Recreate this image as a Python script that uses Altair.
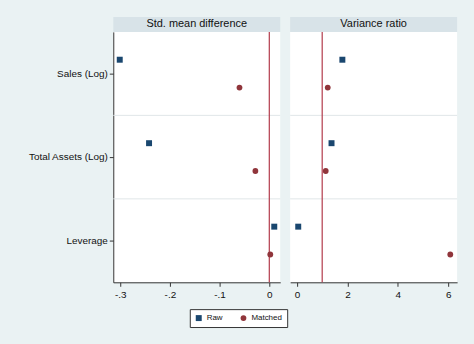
import altair as alt
import pandas as pd

variables = ["Sales (Log)", "Total Assets (Log)", "Leverage"]
samples = ["Raw", "Matched"]
smd_raw = [-0.301, -0.242, 0.010]
smd_matched = [-0.060, -0.028, 0.002]
vr_raw = [1.80, 1.37, 0.05]
vr_matched = [1.22, 1.14, 6.08]

smd_ticks = [-0.3, -0.2, -0.1, 0]
vr_ticks = [0, 2, 4, 6]
panel_titles = ["Std. mean difference", "Variance ratio"]
ref_values = [0, 1]

NAVY = "#1a476f"
MAROON = "#90353b"
REF = "#b23a4a"
BG = "#eaf2f3"
HDR = "#d8e3e8"
FONT = "Liberation Sans"
W, H = 168, 252


def make_df(raw, matched):
    rows = []
    for v, r, m in zip(variables, raw, matched):
        rows.append({"variable": v, "sample": "Raw", "value": r})
        rows.append({"variable": v, "sample": "Matched", "value": m})
    return pd.DataFrame(rows)


def panel(df, title, domain, ticks, ref, show_y, label_expr):
    xscale = alt.Scale(domain=domain, nice=False, zero=False)
    yscale = alt.Scale(domain=variables, paddingInner=0, paddingOuter=0)
    xaxis = alt.Axis(values=ticks, labelExpr=label_expr, title=None, grid=False,
                     tickSize=4, labelPadding=3, labelFontSize=10)
    if show_y:
        yaxis = alt.Axis(title=None, grid=False, tickSize=4, labelPadding=2,
                         labelFontSize=10, labelLimit=200)
    else:
        yaxis = None

    header = alt.Chart(pd.DataFrame({"t": [title]})).mark_rect(
        fill=HDR, clip=False
    ).encode(x=alt.value(0), x2=alt.value(W), y=alt.value(-15), y2=alt.value(0))
    header_text = alt.Chart(pd.DataFrame({"t": [title]})).mark_text(
        fontSize=11, font=FONT, color="#111", baseline="middle", align="center"
    ).encode(x=alt.value(W / 2), y=alt.value(-7.5), text="t:N")

    grid = alt.Chart(pd.DataFrame({"variable": variables[1:]})).mark_rule(
        color="#e0e6e8", strokeWidth=1
    ).encode(y=alt.Y("variable:N", bandPosition=0, scale=yscale, axis=yaxis, sort=variables))

    refline = alt.Chart(pd.DataFrame({"value": [ref]})).mark_rule(
        color=REF, strokeWidth=1.2
    ).encode(x=alt.X("value:Q", scale=xscale, axis=xaxis))

    pts = alt.Chart(df).mark_point(filled=True, opacity=1).encode(
        x=alt.X("value:Q", scale=xscale, axis=xaxis),
        y=alt.Y("variable:N", scale=yscale, axis=yaxis, sort=variables),
        yOffset=alt.YOffset("sample:N", sort=samples,
                            scale=alt.Scale(domain=samples, range=[28, 56],
                                            paddingInner=0, paddingOuter=0)),
        color=alt.Color("sample:N", sort=samples,
                        scale=alt.Scale(domain=samples, range=[NAVY, MAROON]),
                        legend=alt.Legend(title=None, orient="none", legendX=77, legendY=279,
                                          direction="horizontal", strokeColor="#333",
                                          fillColor="white", padding=5, labelFontSize=8,
                                          labelFont=FONT, symbolSize=45, columnPadding=16,
                                          symbolStrokeWidth=0, labelColor="#111")),
        shape=alt.Shape("sample:N", sort=samples,
                        scale=alt.Scale(domain=samples, range=["square", "circle"])),
        size=alt.Size("sample:N", scale=alt.Scale(domain=samples, range=[36, 34]), legend=None),
    )
    return alt.layer(header, header_text, grid, refline, pts).properties(width=W, height=H)


smd_expr = ("datum.value == 0 ? '0' : (datum.value < 0 ? '-' : '') + "
            "replace(format(abs(datum.value), '.1f'), '0.', '.')")
vr_expr = "format(datum.value, 'd')"

left = panel(make_df(smd_raw, smd_matched), panel_titles[0], [-0.314, 0.022], smd_ticks,
             ref_values[0], True, smd_expr)
right = panel(make_df(vr_raw, vr_matched), panel_titles[1], [-0.27, 6.35], vr_ticks,
              ref_values[1], False, vr_expr)

chart = alt.hconcat(left, right, spacing=8).resolve_scale(
    x="independent"
).properties(
    background=BG,
    padding={"left": 27, "top": 16, "right": 16, "bottom": 17},
).configure_view(
    stroke=None, fill="white"
).configure_axis(
    domainColor="#333", tickColor="#333", labelColor="#111", labelFont=FONT
)

chart.save("out.html", embed_options={"renderer": "svg", "actions": False})
